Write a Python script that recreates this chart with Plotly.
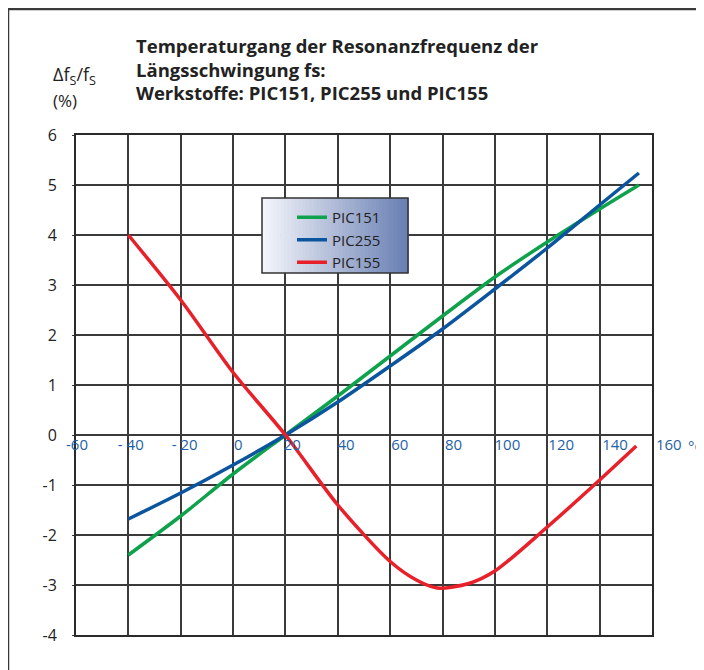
import plotly.graph_objects as go

# data
temp = [-40, -20, 0, 20, 40, 60, 80, 100, 120, 140, 155]
pic151 = [-2.4, -1.62, -0.78, 0.0, 0.78, 1.58, 2.38, 3.16, 3.86, 4.52, 5.0]
pic255 = [-1.68, -1.16, -0.6, 0.0, 0.66, 1.38, 2.12, 2.92, 3.74, 4.6, 5.24]
temp_155 = [-40, -20, 0, 20, 40, 60, 70, 78, 90, 100, 120, 140, 154]
pic155 = [4.0, 2.7, 1.25, 0.0, -1.4, -2.53, -2.9, -3.06, -2.97, -2.72, -1.84, -0.9, -0.22]

x_ticks = [-60, -40, -20, 0, 20, 40, 60, 80, 100, 120, 140, 160]
x_ticktext = ["-60", "- 40", "- 20", "0", "20", "40", "60", "80", "100", "120", "140", "160"]
y_ticks = [-4, -3, -2, -1, 0, 1, 2, 3, 4, 5, 6]
y_ticktext = ["-4", "-3", "-2", "-1", "0", "1", "2", "3", "4", "5", "6"]

title_lines = ["Temperaturgang der Resonanzfrequenz der",
               "Längsschwingung fs:",
               "Werkstoffe: PIC151, PIC255 und PIC155"]

# the page adds an 8px body margin, so the figure is 8px smaller than the window
OFF = 8
W, H = 704 - OFF, 670 - OFF
# plot frame and paper edges, in window pixels
L, R, T, B = 76, 652, 135, 635
PR = 700
FONT = "Open Sans"
TXT = "#222222"
BLUE_TXT = "#1f5fa6"


def px_x(p):
    return (p - L) / (PR - L)


def px_y(p):
    return (B - p) / (B - T)


fig = go.Figure()

series = [("PIC151", temp, pic151, "#0ea24c"),
          ("PIC255", temp, pic255, "#0b559f"),
          ("PIC155", temp_155, pic155, "#e8202a")]
for name, xs, ys, col in series:
    fig.add_trace(go.Scatter(x=xs, y=ys, name=name, mode="lines",
                             line=dict(color=col, width=3.5, shape="spline", smoothing=0.8),
                             hoverinfo="skip"))

# empty trace so the label axis gets drawn
fig.add_trace(go.Scatter(x=[], y=[], xaxis="x2", yaxis="y2", showlegend=False, hoverinfo="skip"))

shapes = []
# legend box with a horizontal gradient
lx0, lx1, ly0, ly1 = 262, 408, 198, 273
n = 40
c0 = (244, 245, 251)
c1 = (106, 128, 180)
for i in range(n):
    f = i / (n - 1)
    c = tuple(int(c0[k] + (c1[k] - c0[k]) * f) for k in range(3))
    xa = lx0 + (lx1 - lx0) * i / n
    xb = lx0 + (lx1 - lx0) * (i + 1) / n + 0.6
    shapes.append(dict(type="rect", xref="paper", yref="paper",
                       x0=px_x(xa), x1=px_x(xb), y0=px_y(ly1), y1=px_y(ly0),
                       fillcolor="rgb(%d,%d,%d)" % c, line=dict(width=0), layer="above"))
shapes.append(dict(type="rect", xref="paper", yref="paper",
                   x0=px_x(lx0), x1=px_x(lx1), y0=px_y(ly1), y1=px_y(ly0),
                   line=dict(color="#333333", width=1.5), layer="above"))
# outer frame (top and left edges only)
shapes.append(dict(type="line", xref="paper", yref="paper",
                   x0=px_x(8), x1=px_x(710), y0=px_y(9), y1=px_y(9),
                   line=dict(color="#3a3a3a", width=2.5)))
shapes.append(dict(type="line", xref="paper", yref="paper",
                   x0=px_x(8), x1=px_x(8), y0=px_y(9), y1=px_y(680),
                   line=dict(color="#3a3a3a", width=2.5)))

annotations = []
for i, line in enumerate(title_lines):
    annotations.append(dict(text=line, xref="paper", yref="paper",
                            x=px_x(134), y=px_y(45 + i * 24), xanchor="left", yanchor="middle",
                            showarrow=False,
                            font=dict(family=FONT, size=18.5, color=TXT, weight=700)))
annotations.append(dict(text="Δf<sub>S</sub>/f<sub>S</sub>", xref="paper", yref="paper",
                        x=px_x(51), y=px_y(76), xanchor="left", yanchor="middle",
                        showarrow=False, font=dict(family=FONT, size=18, color=TXT)))
annotations.append(dict(text="(%)", xref="paper", yref="paper",
                        x=px_x(51), y=px_y(101), xanchor="left", yanchor="middle",
                        showarrow=False, font=dict(family=FONT, size=17, color=TXT)))
annotations.append(dict(text="°C", xref="paper", yref="paper",
                        x=px_x(686), y=px_y(446), xanchor="left", yanchor="middle",
                        showarrow=False, font=dict(family=FONT, size=15, color=BLUE_TXT)))

fig.update_layout(
    width=W, height=H,
    margin=dict(l=L - OFF, r=W + OFF - PR, t=T - OFF, b=H + OFF - B, pad=0),
    paper_bgcolor="white", plot_bgcolor="rgba(0,0,0,0)",
    font=dict(family=FONT, color=TXT),
    showlegend=True,
    legend=dict(x=px_x(292), y=px_y(201), xanchor="left", yanchor="top",
                bgcolor="rgba(0,0,0,0)", borderwidth=0, tracegroupgap=0,
                font=dict(family=FONT, size=15, color=TXT)),
    xaxis=dict(domain=[0, px_x(R)], range=[-60, 160], tickvals=x_ticks, showticklabels=False,
               showgrid=True, gridcolor="#3a3a3a", gridwidth=1.5,
               zeroline=False, showline=True, mirror=True,
               linecolor="#2a2a2a", linewidth=2, ticks=""),
    # label axis: the printed labels drift slightly right of the grid lines
    xaxis2=dict(domain=[0, 1], anchor="free", position=px_y(434),
                range=[-60.37, 171.6], tickvals=x_ticks, ticktext=x_ticktext,
                showgrid=False, zeroline=False, showline=False, ticks="",
                tickfont=dict(family=FONT, size=15, color=BLUE_TXT)),
    yaxis=dict(range=[-4, 6], tickvals=y_ticks, ticktext=y_ticktext,
               showgrid=True, gridcolor="#3a3a3a", gridwidth=1.5,
               zeroline=False, showline=True, mirror=True,
               linecolor="#2a2a2a", linewidth=2, ticks="outside", ticklen=2,
               tickcolor="#3a3a3a", ticklabelstandoff=12,
               tickfont=dict(family=FONT, size=16, color=TXT)),
    yaxis2=dict(anchor="x2", range=[-4, 6], visible=False, showgrid=False),
    shapes=shapes,
    annotations=annotations,
)

fig.write_html("out.html")
